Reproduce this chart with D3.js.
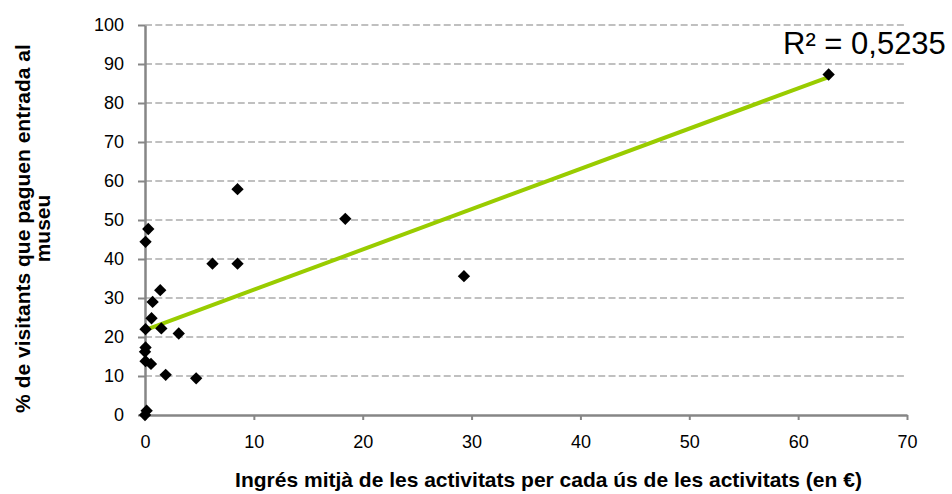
<!DOCTYPE html>
<html>
<head>
<meta charset="utf-8">
<script src="https://cdn.jsdelivr.net/npm/d3@7"></script>
<style>
  html, body { margin: 0; padding: 0; background: #fff; }
  svg { display: block; }
  text { font-family: "Liberation Sans", Arial, sans-serif; fill: #000; }
</style>
</head>
<body>
<svg id="chart" width="952" height="494"></svg>
<script>
// Ingrés mitjà per ús de les activitats (€) vs % de visitants que paguen entrada
const incomePerUse = [0.3, 0.05, 6.2, 8.5, 1.4, 0.7, 0.6, 1.5, 0.05, 3.1, 0.05, 0, 0.05, 0.55, 1.9, 4.7, 0.15, 0, 8.5, 18.4, 29.3, 62.8];
const payingShare  = [47.7, 44.4, 38.8, 38.8, 32, 29, 24.8, 22.2, 22, 20.9, 17.3, 16.2, 13.8, 13.1, 10.3, 9.4, 1.1, 0, 57.9, 50.3, 35.6, 87.3];

const xTicks = [0, 10, 20, 30, 40, 50, 60, 70];
const yTicks = [0, 10, 20, 30, 40, 50, 60, 70, 80, 90, 100];
const rSquaredLabel = "R² = 0,5235";
const xTitle = "Ingrés mitjà de les activitats per cada ús de les activitats (en €)";
const yTitleLines = ["% de visitants que paguen entrada al", "museu"];

const points = incomePerUse.map((x, i) => ({ x, y: payingShare[i] }));

const svg = d3.select("#chart");
const plot = { left: 145, right: 907, top: 25, bottom: 415 };

const x = d3.scaleLinear().domain([0, 70]).range([plot.left, plot.right]);
const y = d3.scaleLinear().domain([0, 100]).range([plot.bottom, plot.top]);

// horizontal dashed gridlines
svg.append("g")
  .selectAll("line")
  .data(yTicks.filter(t => t > 0))
  .join("line")
  .attr("x1", plot.left).attr("x2", plot.right)
  .attr("y1", d => y(d)).attr("y2", d => y(d))
  .attr("stroke", "#c0c0c0")
  .attr("stroke-width", 2)
  .attr("stroke-dasharray", "7,3.3");

// y axis
const yAxis = svg.append("g")
  .attr("transform", `translate(${plot.left},0)`)
  .call(d3.axisLeft(y).tickValues(yTicks).tickSize(7).tickPadding(14).tickSizeOuter(0));
yAxis.select(".domain").attr("stroke", "#868686").attr("stroke-width", 2.5);
yAxis.selectAll(".tick line").attr("stroke", "#868686").attr("stroke-width", 2);
yAxis.selectAll(".tick text")
  .attr("font-size", 18)
  .attr("font-family", "Liberation Sans, Arial, sans-serif")
  .attr("fill", "#000");

// x axis
const xAxis = svg.append("g")
  .attr("transform", `translate(0,${plot.bottom})`)
  .call(d3.axisBottom(x).tickValues(xTicks).tickSize(5).tickPadding(15.5).tickSizeOuter(0));
xAxis.select(".domain").attr("stroke", "#868686").attr("stroke-width", 2.5);
xAxis.selectAll(".tick line").attr("stroke", "#868686").attr("stroke-width", 2);
xAxis.selectAll(".tick text")
  .attr("font-size", 18)
  .attr("font-family", "Liberation Sans, Arial, sans-serif")
  .attr("fill", "#000");

// linear least-squares trendline over the observed x range
const mx = d3.mean(points, d => d.x);
const my = d3.mean(points, d => d.y);
const sxy = d3.sum(points, d => (d.x - mx) * (d.y - my));
const sxx = d3.sum(points, d => (d.x - mx) ** 2);
const slope = sxy / sxx;
const intercept = my - slope * mx;
const [xmin, xmax] = d3.extent(points, d => d.x);
const fit = [xmin, xmax].map(v => ({ x: v, y: intercept + slope * v }));

svg.append("path")
  .datum(fit)
  .attr("fill", "none")
  .attr("stroke", "#99cc00")
  .attr("stroke-width", 4)
  .attr("d", d3.line().x(d => x(d.x)).y(d => y(d.y)));

// diamond markers
const diamond = d3.symbol().type(d3.symbolSquare).size(76);
svg.append("g")
  .selectAll("path")
  .data(points)
  .join("path")
  .attr("d", diamond)
  .attr("transform", d => `translate(${x(d.x)},${y(d.y)}) rotate(45)`)
  .attr("fill", "#000");

// R² annotation
svg.append("text")
  .attr("x", 783).attr("y", 53.5)
  .attr("font-size", 31)
  .text(rSquaredLabel);

// axis titles
svg.append("text")
  .attr("x", 548.5).attr("y", 487)
  .attr("text-anchor", "middle")
  .attr("font-size", 21)
  .attr("font-weight", "bold")
  .text(xTitle);

const yTitle = svg.append("text")
  .attr("transform", "translate(29.5,228.5) rotate(-90)")
  .attr("text-anchor", "middle")
  .attr("font-size", 21)
  .attr("font-weight", "bold");
yTitleLines.forEach((line, i) => {
  yTitle.append("tspan")
    .attr("x", 0)
    .attr("dy", i === 0 ? 0 : 20.5)
    .text(line);
});
</script>
</body>
</html>
